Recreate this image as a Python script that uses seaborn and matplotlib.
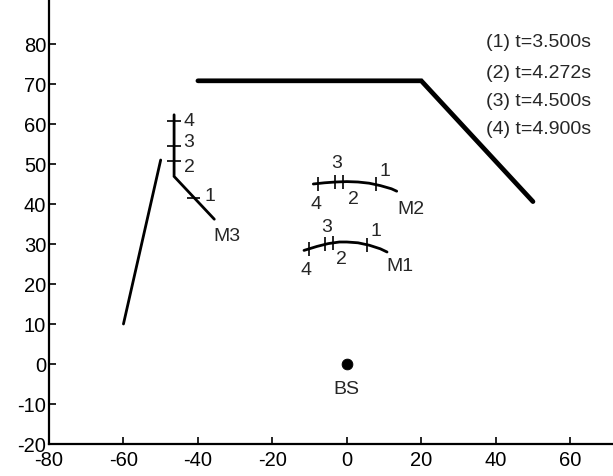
import numpy as np
import pandas as pd
import matplotlib
matplotlib.use("Agg")
import matplotlib.pyplot as plt
import seaborn as sns

# ---- data ----
road_x = [-40, 20, 50]
road_y = [70.8, 70.8, 40.6]

wall_x = [-60, -50]
wall_y = [10, 51]

m3_x = [-46.4, -46.4, -35.6]
m3_y = [62.3, 46.9, 36.2]
m3_tick_x = [-41.2, -46.4, -46.4, -46.4]
m3_tick_y = [41.5, 50.8, 54.6, 60.7]
m3_lab_x = [-36.7, -42.4, -42.4, -42.4]
m3_lab_y = [41.9, 49.0, 55.3, 60.6]

m2_x = [-9.0, -6.0, -3.0, 0.0, 3.0, 6.0, 9.0, 12.0, 13.4]
m2_y = [45.0, 45.3, 45.5, 45.6, 45.5, 45.2, 44.6, 43.8, 43.2]
m2_tick_x = [7.8, -1.0, -3.2, -7.7]
m2_tick_y = [44.9, 45.6, 45.5, 45.1]
m2_lab_x = [10.2, 1.9, -2.8, -8.3]
m2_lab_y = [48.2, 41.0, 50.0, 39.8]

m1_x = [-11.5, -8.0, -5.0, -2.0, 0.0, 3.0, 6.0, 9.0, 10.8]
m1_y = [28.4, 29.4, 30.1, 30.5, 30.5, 30.3, 29.7, 28.8, 28.0]
m1_tick_x = [5.4, -3.7, -5.9, -10.2]
m1_tick_y = [29.8, 30.3, 29.9, 28.8]
m1_lab_x = [7.8, -1.4, -5.4, -11.0]
m1_lab_y = [33.2, 26.0, 34.0, 23.4]

tick_labels = ["1", "2", "3", "4"]

names = ["M1", "M2", "M3", "BS"]
name_x = [14.2, 17.3, -32.3, 0.0]
name_y = [24.4, 38.6, 31.9, -6.4]

bs_x = [0]
bs_y = [0]

legend_lines = ["(1) t=3.500s", "(2) t=4.272s", "(3) t=4.500s", "(4) t=4.900s"]
legend_y = [80.3, 72.6, 65.5, 58.5]
legend_x = 37.3

xticks = [-80, -60, -40, -20, 0, 20, 40, 60]
yticks = [-20, -10, 0, 10, 20, 30, 40, 50, 60, 70, 80]

# ---- plot ----
sns.set_style("ticks")
plt.rcParams["font.family"] = ["Liberation Sans", "DejaVu Sans"]
plt.rcParams["axes.unicode_minus"] = False

fig = plt.figure(figsize=(6.13, 4.76), dpi=100)
ax = fig.add_axes([49 / 613, 32 / 476, 564 / 613, 444 / 476])

def path(x, y, lw):
    sns.lineplot(x=x, y=y, sort=False, estimator=None, color="black",
                 linewidth=lw, ax=ax, solid_joinstyle="miter")

path(road_x, road_y, 3.4)
path(wall_x, wall_y, 2.0)
path(m3_x, m3_y, 2.0)
path(m2_x, m2_y, 2.0)
path(m1_x, m1_y, 2.0)

tick_h = 1.75
tick_w = 1.8
ax.vlines(m2_tick_x, np.array(m2_tick_y) - tick_h, np.array(m2_tick_y) + tick_h,
          color="black", linewidth=1.2)
ax.vlines(m1_tick_x, np.array(m1_tick_y) - tick_h, np.array(m1_tick_y) + tick_h,
          color="black", linewidth=1.2)
ax.hlines(m3_tick_y, np.array(m3_tick_x) - tick_w, np.array(m3_tick_x) + tick_w,
          color="black", linewidth=1.2)

fs = 14
for xs, ys in [(m3_lab_x, m3_lab_y), (m2_lab_x, m2_lab_y), (m1_lab_x, m1_lab_y)]:
    for lx, ly, t in zip(xs, ys, tick_labels):
        ax.text(lx, ly, t, ha="center", va="center", fontsize=fs)

for nx, ny, t in zip(name_x, name_y, names):
    ax.text(nx, ny, t, ha="center", va="center", fontsize=fs)

sns.scatterplot(x=bs_x, y=bs_y, color="black", s=60, ax=ax, edgecolor="black")

for ly, t in zip(legend_y, legend_lines):
    ax.text(legend_x, ly, t, ha="left", va="center", fontsize=fs, clip_on=False)

ax.set_xlim(-80, 71.5)
ax.set_ylim(-20, 91)
ax.set_xticks(xticks)
ax.set_yticks(yticks)
ax.set_xticklabels([str(v) for v in xticks])
ax.set_yticklabels([str(v) for v in yticks])
ax.tick_params(direction="in", length=5, width=1.2, labelsize=14.5,
               colors="black")
ax.tick_params(axis="x", pad=5)
ax.tick_params(axis="y", pad=2)
for s in ["top", "right"]:
    ax.spines[s].set_visible(False)
for s in ["left", "bottom"]:
    ax.spines[s].set_linewidth(1.6)
    ax.spines[s].set_color("black")
ax.set_facecolor("white")

fig.savefig("out.png", dpi=100, facecolor="white")
